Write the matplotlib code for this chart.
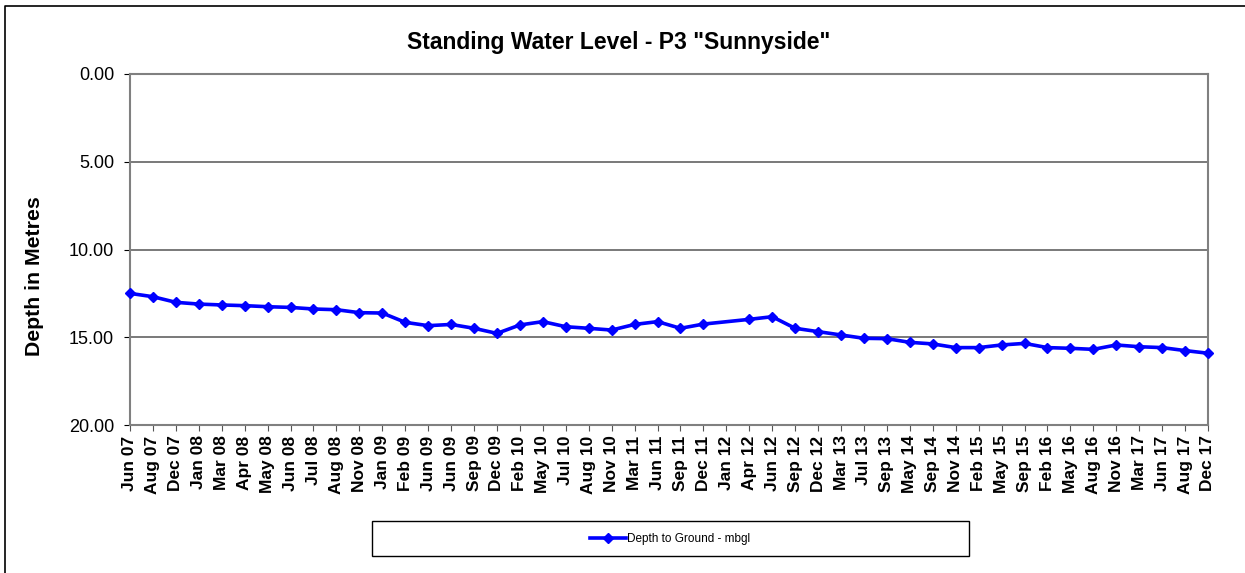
import numpy as np
import matplotlib
matplotlib.use("Agg")
import matplotlib.pyplot as plt
from matplotlib.lines import Line2D
from matplotlib.patches import Rectangle

plt.rcParams['font.family'] = ['Liberation Sans', 'DejaVu Sans']

# Dates of the readings (categorical axis)
dates = ["Jun 07", "Aug 07", "Dec 07", "Jan 08", "Mar 08", "Apr 08", "May 08", "Jun 08",
         "Jul 08", "Aug 08", "Nov 08", "Jan 09", "Feb 09", "Jun 09", "Jun 09", "Sep 09",
         "Dec 09", "Feb 10", "May 10", "Jul 10", "Aug 10", "Nov 10", "Mar 11", "Jun 11",
         "Sep 11", "Dec 11", "Jan 12", "Apr 12", "Jun 12", "Sep 12", "Dec 12", "Mar 13",
         "Jul 13", "Sep 13", "May 14", "Sep 14", "Nov 14", "Feb 15", "May 15", "Sep 15",
         "Feb 16", "May 16", "Aug 16", "Nov 16", "Mar 17", "Jun 17", "Aug 17", "Dec 17"]

# Depth to ground (m below ground level), Jan 12 has no reading
depth = [12.50, 12.69, 13.01, 13.11, 13.16, 13.20, 13.26, 13.30,
         13.39, 13.43, 13.60, 13.62, 14.15, 14.34, 14.27, 14.49,
         14.78, 14.30, 14.11, 14.40, 14.49, 14.59, 14.27, 14.11,
         14.49, 14.25, np.nan, 13.98, 13.83, 14.49, 14.68, 14.87,
         15.06, 15.08, 15.29, 15.38, 15.59, 15.59, 15.44, 15.35,
         15.59, 15.63, 15.69, 15.44, 15.54, 15.59, 15.76, 15.91]

x = np.arange(len(dates))
y = np.array(depth)
ok = ~np.isnan(y)

W, H = 1245, 573
fig = plt.figure(figsize=(W / 100, H / 100), dpi=100)
ax = fig.add_axes([130 / W, 1 - 425 / H, 1078 / W, 351 / H])

ax.plot(x[ok], y[ok], color='#0000FF', lw=2.6, marker='D', ms=5.5, clip_on=False, zorder=3,
        label="Depth to Ground - mbgl")

ax.set_xlim(0, len(dates) - 1)
ax.set_ylim(20, 0)
ax.set_yticks([0, 5, 10, 15, 20])
ax.set_yticklabels(["%.2f" % v for v in [0, 5, 10, 15, 20]], fontsize=13)
ax.set_xticks(x)
ax.set_xticklabels(dates, rotation=90, fontsize=12.5, fontweight='bold')
ax.tick_params(axis='y', direction='out', length=4.5, pad=7, color='black')
ax.tick_params(axis='x', direction='out', length=4.5, pad=3, color='#555555')
ax.yaxis.grid(True, color='#555555', lw=1.1)
ax.set_axisbelow(True)
for s in ax.spines.values():
    s.set_color('#808080')
    s.set_linewidth(1.5)

fig.text(0.497, 1 - 42 / H, 'Standing Water Level - P3 "Sunnyside"', ha='center', va='center',
         fontsize=16.5, fontweight='bold')
fig.text(35 / W, 1 - 276 / H, "Depth in Metres", rotation=90, ha='center', va='center',
         fontsize=15.3, fontweight='bold')

# legend box
fig.add_artist(Rectangle((372 / W, 1 - 556 / H), 597 / W, 35 / H, transform=fig.transFigure,
                         fill=False, ec='black', lw=1))
fig.legend(loc='center', bbox_to_anchor=(670 / W, 1 - 539 / H), frameon=False, fontsize=8.5,
           handlelength=3, handletextpad=0.1)

# outer chart border (left and top)
fig.add_artist(Line2D([5 / W, 5 / W, 1], [0, 1 - 6 / H, 1 - 6 / H], transform=fig.transFigure,
                      color='black', lw=1.2))

fig.savefig("out.png", dpi=100)
